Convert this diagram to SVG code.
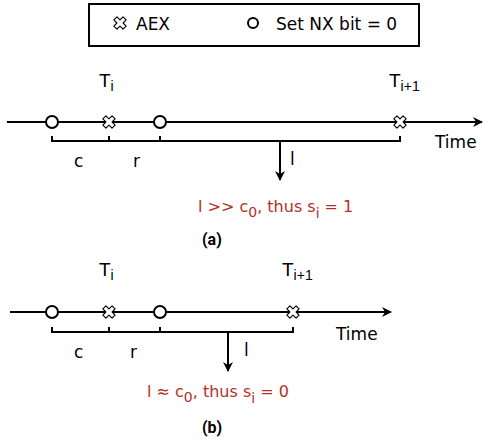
<svg xmlns="http://www.w3.org/2000/svg" width="484" height="442" viewBox="0 0 484 442">
<defs>
<style>
.ln{stroke:#000;stroke-width:2;fill:none}
.br{stroke:#000;stroke-width:2;fill:none;stroke-linejoin:miter}
.dot{fill:#fff;stroke:#000;stroke-width:2}
.x{fill:#fff;stroke:#000;stroke-width:1.1;stroke-linejoin:round}
.t{font-family:"DejaVu Sans",sans-serif;font-size:17px;fill:#000}
.T{font-family:"Liberation Sans",Arial,sans-serif;font-size:19px;fill:#000}
.s{font-size:14px}
.red{font-family:"DejaVu Sans",sans-serif;font-size:16px;fill:#b5301f}
.cap{font-family:Roboto,"Liberation Sans",sans-serif;font-size:16px;font-weight:bold;fill:#000}
</style>
<polygon id="xm" transform="rotate(45)" points="-2.2,-6.5 2.2,-6.5 2.2,-2.2 6.5,-2.2 6.5,2.2 2.2,2.2 2.2,6.5 -2.2,6.5 -2.2,2.2 -6.5,2.2 -6.5,-2.2 -2.2,-2.2"/>
<marker id="ah" viewBox="0 0 10 10" refX="9" refY="5" markerWidth="10" markerHeight="10" markerUnits="userSpaceOnUse" orient="auto">
<path d="M0,0 L10,5 L0,10 L3,5 Z" fill="#000"/>
</marker>
</defs>

<g id="legend">
<rect x="89" y="4" width="330" height="42" fill="#fff" stroke="#000" stroke-width="2"/>
<use href="#xm" x="120" y="23" class="x"/>
<text class="t" x="136" y="30">AEX</text>
<circle cx="253" cy="23" r="5" class="dot" stroke-width="1.8"/>
<text class="t" x="276" y="30">Set NX bit = 0</text>
</g>

<g id="connectors">
<!-- panel a -->
<line x1="7" y1="122" x2="482" y2="122" class="ln" marker-end="url(#ah)"/>
<path d="M52,136 V141 H400 V136 M109,141 V136 M160,141 V136" class="br"/>
<line x1="280" y1="141" x2="280" y2="180" class="ln" marker-end="url(#ah)"/>
<!-- panel b -->
<line x1="10" y1="312" x2="391" y2="312" class="ln" marker-end="url(#ah)"/>
<path d="M52,327 V332 H293 V327 M109,332 V327 M160,332 V327" class="br"/>
<line x1="228" y1="332" x2="228" y2="371" class="ln" marker-end="url(#ah)"/>
</g>

<g id="panel-a">
<circle cx="52" cy="122" r="6" class="dot"/>
<circle cx="160" cy="122" r="6" class="dot"/>
<use href="#xm" x="109" y="122" class="x"/>
<use href="#xm" x="400" y="122" class="x"/>
<text class="T" x="99" y="87">T<tspan class="s" dy="4">i</tspan></text>
<text class="T" x="389" y="87">T<tspan class="s" dy="4">i+1</tspan></text>
<text class="t" x="435" y="148">Time</text>
<text class="t" x="74" y="167">c</text>
<text class="t" x="133" y="167">r</text>
<text class="t" x="290" y="165">l</text>
<text class="red" x="198" y="212">l &gt;&gt; c<tspan class="s" dy="5">0</tspan><tspan dy="-5">, thus s</tspan><tspan class="s" dy="6">i</tspan><tspan dy="-6"> = 1</tspan></text>
<text class="cap" x="202" y="245">(a)</text>
</g>

<g id="panel-b">
<circle cx="52" cy="312" r="6" class="dot"/>
<circle cx="160" cy="312" r="6" class="dot"/>
<use href="#xm" x="109" y="312" class="x"/>
<use href="#xm" x="293" y="312" class="x"/>
<text class="T" x="99" y="276">T<tspan class="s" dy="4">i</tspan></text>
<text class="T" x="282" y="276">T<tspan class="s" dy="4">i+1</tspan></text>
<text class="t" x="336" y="340">Time</text>
<text class="t" x="74" y="358">c</text>
<text class="t" x="130" y="358">r</text>
<text class="t" x="244" y="356">l</text>
<text class="red" x="147" y="397">l ≈ c<tspan class="s" dy="5">0</tspan><tspan dy="-5">, thus s</tspan><tspan class="s" dy="6">i</tspan><tspan dy="-6"> = 0</tspan></text>
<text class="cap" x="202" y="433">(b)</text>
</g>
</svg>
